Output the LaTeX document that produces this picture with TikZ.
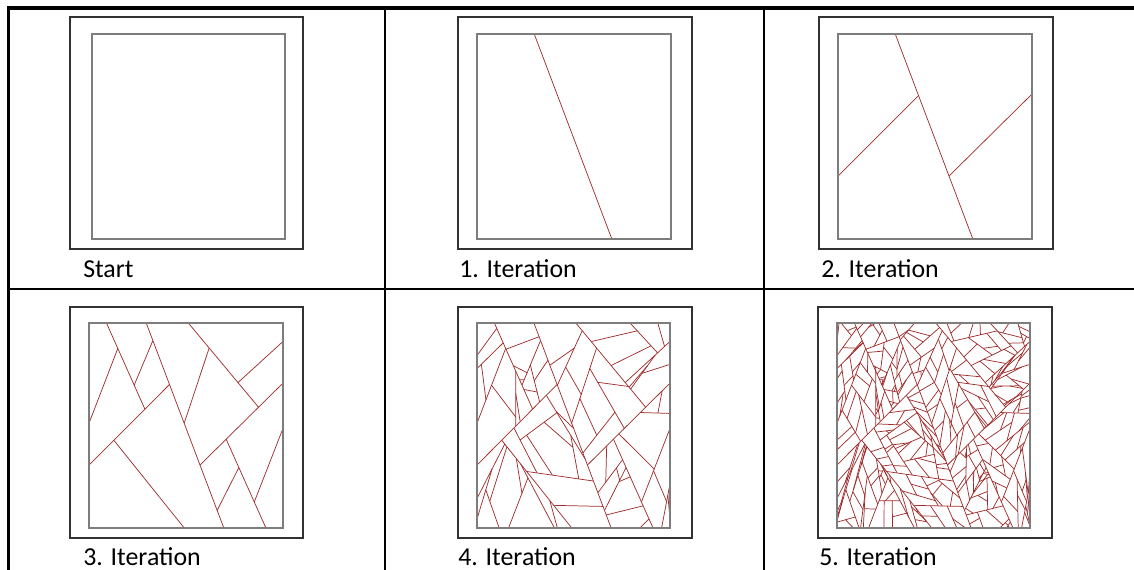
\documentclass[tikz,border=0pt]{standalone}
\usepackage{fontspec}
\setmainfont{Carlito}
\definecolor{cutred}{RGB}{160,45,45}
\definecolor{outerg}{RGB}{50,50,50}
\definecolor{innerg}{RGB}{125,125,125}
\newcount\vcnt
\newcount\kcnt
\newcount\icnt
\newcount\jcnt
\newcount\rcnt
% ---------- lines of iterations 1-3 (relative coords, v downwards)
\gdef\alllines{%
\CUT{1}{0.295}{0}{0.695}{1}%
\CUT{2}{0}{0.693}{0.415}{0.30}%
\CUT{2}{0.572}{0.693}{1}{0.293}%
\CUT{3}{0.09}{0}{0.288}{0.420}%
\CUT{3}{0}{0.489}{0.1485}{0.124}%
\CUT{3}{0.233}{0.303}{0.329}{0.086}%
\CUT{3}{0.128}{0.572}{0.491}{1}%
\CUT{3}{0.512}{0}{0.874}{0.411}%
\CUT{3}{0.4906}{0.489}{0.6195}{0.122}%
\CUT{3}{0.768}{0.2906}{1}{0.090}%
\CUT{3}{0.707}{0.5668}{0.912}{1}%
\CUT{3}{0.6606}{0.914}{0.7724}{0.705}%
\CUT{3}{0.8519}{0.873}{1}{0.514}}
\gdef\leaves{}
\def\curlevel{4}
\def\thr{0.03}
\def\splitpoly#1#2{\dosplit{#1}{#2}}
\def\leafend#1#2{\xdef\leaves{\unexpanded\expandafter{\leaves}\noexpand\LP{\unexpanded{#1}}}\endgroup}
\def\dosplit#1#2{%
  \begingroup
  % count vertices, area, longest edge
  \kcnt=0
  \def\maxlen{-1}\icnt=1
  \def\area{0}%
  \def\vtx##1##2{\advance\kcnt by 1
    \ifnum\kcnt=1 \def\xf{##1}\def\yf{##2}\else
      \pgfmathsetmacro\elen{(##1-\xp)^2+(##2-\yp)^2}%
      \ifdim\elen pt>\maxlen pt \let\maxlen\elen \icnt=\numexpr\kcnt-1\relax\fi
      \pgfmathsetmacro\area{\area+\xp*##2-##1*\yp}%
    \fi
    \def\xp{##1}\def\yp{##2}}%
  #1%
  \vcnt=\kcnt
  \pgfmathsetmacro\elen{(\xf-\xp)^2+(\yf-\yp)^2}%
  \ifdim\elen pt>\maxlen pt \icnt=\vcnt\fi
  \pgfmathsetmacro\area{abs(\area+\xp*\yf-\xf*\yp)/2}%
  \ifnum#2>0 \let\next\dosplitB
  \else\ifdim\area pt>\thr pt \let\next\dosplitB\else\let\next\leafend\fi\fi
  \next{#1}{#2}}
\def\dosplitB#1#2{%
  % choose the second edge
  \pgfmathsetmacro\coin{rnd}%
  \ifnum\vcnt>3 \ifdim\coin pt<0.55pt
      \pgfmathrandominteger{\rr}{1}{\the\numexpr\vcnt-3\relax}%
      \rcnt=\rr\relax \advance\rcnt by 1
    \else
      \pgfmathrandominteger{\rr}{1}{\the\numexpr\vcnt-1\relax}%
      \rcnt=\rr\relax
    \fi
  \else
    \pgfmathrandominteger{\rr}{1}{\the\numexpr\vcnt-1\relax}%
    \rcnt=\rr\relax
  \fi
  \jcnt=\numexpr\icnt+\rcnt\relax
  \ifnum\jcnt>\vcnt \advance\jcnt by -\vcnt \fi
  \pgfmathsetmacro\prmA{0.25+0.5*rnd}%
  \pgfmathsetmacro\prmB{0.15+0.7*rnd}%
  \ifnum\icnt>\jcnt \kcnt=\icnt \icnt=\jcnt \jcnt=\kcnt \let\tmp\prmA\let\prmA\prmB\let\prmB\tmp\fi
  \kcnt=0
  \def\vtx##1##2{\advance\kcnt by 1
    \ifnum\kcnt=\icnt \def\xa{##1}\def\ya{##2}\fi
    \ifnum\kcnt=\numexpr\icnt+1\relax \def\xb{##1}\def\yb{##2}\fi
    \ifnum\kcnt=\jcnt \def\xc{##1}\def\yc{##2}\fi
    \ifnum\kcnt=\numexpr\jcnt+1\relax \def\xd{##1}\def\yd{##2}\fi}%
  #1%
  \ifnum\jcnt=\vcnt \let\xd\xf \let\yd\yf \fi
  \pgfmathsetmacro\px{\xa+\prmA*(\xb-\xa)}%
  \pgfmathsetmacro\py{\ya+\prmA*(\yb-\ya)}%
  \pgfmathsetmacro\qx{\xc+\prmB*(\xd-\xc)}%
  \pgfmathsetmacro\qy{\yc+\prmB*(\yd-\yc)}%
  \xdef\alllines{\unexpanded\expandafter{\alllines}\noexpand\CUT{\curlevel}{\px}{\py}{\qx}{\qy}}%
  \edef\polyA{\noexpand\vtx{\px}{\py}}%
  \edef\polyB{\noexpand\vtx{\qx}{\qy}}%
  \kcnt=0
  \def\vtx##1##2{\advance\kcnt by 1
    \ifnum\kcnt>\icnt \ifnum\kcnt>\jcnt\else
      \edef\polyA{\unexpanded\expandafter{\polyA}\noexpand\vtx{##1}{##2}}\fi\fi}%
  #1%
  \edef\polyA{\unexpanded\expandafter{\polyA}\noexpand\vtx{\qx}{\qy}}%
  \kcnt=0
  \def\vtx##1##2{\advance\kcnt by 1
    \ifnum\kcnt>\jcnt
      \edef\polyB{\unexpanded\expandafter{\polyB}\noexpand\vtx{##1}{##2}}\fi}%
  #1%
  \kcnt=0
  \def\vtx##1##2{\advance\kcnt by 1
    \ifnum\kcnt>\icnt\else
      \edef\polyB{\unexpanded\expandafter{\polyB}\noexpand\vtx{##1}{##2}}\fi}%
  #1%
  \edef\polyB{\unexpanded\expandafter{\polyB}\noexpand\vtx{\px}{\py}}%
  \ifnum#2>0 \edef\nd{\the\numexpr#2-1\relax}\else\def\nd{0}\fi
  \edef\doit{\noexpand\splitpoly{\unexpanded\expandafter{\polyA}}{\nd}%
    \noexpand\splitpoly{\unexpanded\expandafter{\polyB}}{\nd}}%
  \expandafter\endgroup\doit}
% ---------- polygons after iteration 3
\def\baseleaves{%
\LP{\vtx{0}{0}\vtx{0.09}{0}\vtx{0.1485}{0.124}\vtx{0}{0.489}}%
\LP{\vtx{0}{0.489}\vtx{0.1485}{0.124}\vtx{0.288}{0.420}\vtx{0}{0.693}}%
\LP{\vtx{0.09}{0}\vtx{0.295}{0}\vtx{0.329}{0.086}\vtx{0.233}{0.303}}%
\LP{\vtx{0.233}{0.303}\vtx{0.329}{0.086}\vtx{0.415}{0.30}\vtx{0.288}{0.420}}%
\LP{\vtx{0}{0.693}\vtx{0.128}{0.572}\vtx{0.491}{1}\vtx{0}{1}}%
\LP{\vtx{0.128}{0.572}\vtx{0.415}{0.30}\vtx{0.695}{1}\vtx{0.491}{1}}%
\LP{\vtx{0.295}{0}\vtx{0.512}{0}\vtx{0.6195}{0.122}\vtx{0.4906}{0.489}}%
\LP{\vtx{0.4906}{0.489}\vtx{0.6195}{0.122}\vtx{0.874}{0.411}\vtx{0.572}{0.693}}%
\LP{\vtx{0.512}{0}\vtx{1}{0}\vtx{1}{0.090}\vtx{0.768}{0.2906}}%
\LP{\vtx{0.768}{0.2906}\vtx{1}{0.090}\vtx{1}{0.293}\vtx{0.874}{0.411}}%
\LP{\vtx{0.572}{0.693}\vtx{0.707}{0.5668}\vtx{0.7724}{0.705}\vtx{0.6606}{0.914}}%
\LP{\vtx{0.6606}{0.914}\vtx{0.7724}{0.705}\vtx{0.912}{1}\vtx{0.695}{1}}%
\LP{\vtx{0.707}{0.5668}\vtx{1}{0.293}\vtx{1}{0.514}\vtx{0.8519}{0.873}}%
\LP{\vtx{0.8519}{0.873}\vtx{1}{0.514}\vtx{1}{1}\vtx{0.912}{1}}}
\pgfmathsetseed{12}
\def\LP#1{\splitpoly{#1}{2}}
\def\curlevel{4}
\def\thr{0.045}
\baseleaves
\let\levelfour\leaves
\gdef\leaves{}
\def\curlevel{5}
\def\thr{0.008}
\levelfour
\begin{document}
\begin{tikzpicture}[x=0.75pt,y=-0.75pt,
  cut/.style={draw=cutred,line width=0.55pt},
  outersq/.style={draw=outerg,line width=1.6pt},
  innersq/.style={draw=innerg,line width=0.9pt},
  gridline/.style={draw=black,line width=2.2pt},
  lbl/.style={anchor=base west,inner sep=0pt,font=\fontsize{19.4}{23}\selectfont}]
\useasboundingbox (0,0) rectangle (1134,570);
\def\CUT#1#2#3#4#5{\ifnum#1>\maxlvl\relax\else\draw[cut] (#2,#3)--(#4,#5);\fi}
% table grid
\draw[gridline,line width=3.6pt] (7,8) -- (1134,8);
\draw[gridline] (8.7,6) -- (8.7,570);
\draw[gridline] (385,6) -- (385,570);
\draw[gridline] (764,6) -- (764,570);
\draw[gridline] (8,289) -- (1134,289);
% panel: start
\draw[outersq] (70,17) rectangle (303,249);
\draw[innersq] (92,34) rectangle (285,239);
\node[lbl] (l0) at (83,277) {Start};
% panel: 1
\draw[outersq] (458,17) rectangle (692,249);
\begin{scope}[shift={(477,34)},x=145.5pt,y=-153.75pt]
\def\maxlvl{1}\alllines
\end{scope}
\draw[innersq] (477,34) rectangle (671,239);
\node[lbl] (l1) at (459,277) {1. Iteration};
% panel: 2
\draw[outersq] (819,17) rectangle (1053,249);
\begin{scope}[shift={(838,34)},x=145.5pt,y=-153.75pt]
\def\maxlvl{2}\alllines
\end{scope}
\draw[innersq] (838,34) rectangle (1032,239);
\node[lbl] (l2) at (821,277) {2. Iteration};
% panel: 3
\draw[outersq] (70,307) rectangle (303,538);
\begin{scope}[shift={(89,323)},x=145.5pt,y=-153.75pt]
\def\maxlvl{3}\alllines
\end{scope}
\draw[innersq] (89,323) rectangle (283,528);
\node[lbl] (l3) at (83,565) {3. Iteration};
% panel: 4
\draw[outersq] (458,307) rectangle (692,538);
\begin{scope}[shift={(477,323)},x=144.75pt,y=-153.75pt]
\def\maxlvl{4}\alllines
\end{scope}
\draw[innersq] (477,323) rectangle (670,528);
\node[lbl] (l4) at (458,565) {4. Iteration};
% panel: 5
\draw[outersq] (818,307) rectangle (1052,538);
\begin{scope}[shift={(837,323)},x=144.75pt,y=-153.75pt]
\def\maxlvl{5}\alllines
\end{scope}
\draw[innersq] (837,323) rectangle (1030,528);
\node[lbl] (l5) at (819,565) {5. Iteration};
\end{tikzpicture}
\end{document}
